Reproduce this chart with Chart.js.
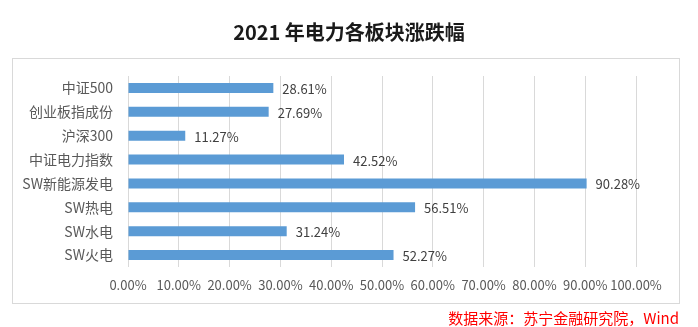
<!DOCTYPE html>
<html>
<head>
<meta charset="utf-8">
<script src="https://cdn.jsdelivr.net/npm/chart.js@4.4.0/dist/chart.umd.min.js"></script>
<style>
html,body{margin:0;padding:0;background:#fff;}
#wrap{width:698px;height:327px;position:relative;}
</style>
</head>
<body>
<div id="wrap"><canvas id="c" width="698" height="327"></canvas></div>
<script>
const titleText = '2021 年电力各板块涨跌幅';
const sourceText = '数据来源：苏宁金融研究院，Wind';
const categories = ['中证500', '创业板指成份', '沪深300', '中证电力指数', 'SW新能源发电', 'SW热电', 'SW水电', 'SW火电'];
const changes = [28.61, 27.69, 11.27, 42.52, 90.28, 56.51, 31.24, 52.27];
const xTicks = [0, 10, 20, 30, 40, 50, 60, 70, 80, 90, 100];

const FONT = '"Noto Sans CJK SC", "Noto Sans", sans-serif';

const decor = {
  id: 'decor',
  beforeDraw(chart) {
    const ctx = chart.ctx;
    ctx.save();
    ctx.fillStyle = '#fff';
    ctx.fillRect(0, 0, chart.width, chart.height);
    ctx.strokeStyle = '#d9d9d9';
    ctx.lineWidth = 1;
    ctx.strokeRect(12.5, 58.5, 667, 245);
    ctx.fillStyle = '#1a1a1a';
    ctx.font = 'bold 20px ' + FONT;
    ctx.textAlign = 'center';
    ctx.textBaseline = 'middle';
    ctx.fillText(titleText, 349, 32);
    ctx.fillStyle = '#ff0000';
    ctx.font = '15px ' + FONT;
    ctx.textAlign = 'right';
    ctx.fillText(sourceText, 679, 318);
    ctx.restore();
  },
  afterDatasetsDraw(chart) {
    const ctx = chart.ctx;
    const meta = chart.getDatasetMeta(0);
    ctx.save();
    ctx.fillStyle = '#404040';
    ctx.font = '13px ' + FONT;
    ctx.textAlign = 'left';
    ctx.textBaseline = 'middle';
    meta.data.forEach((bar, i) => {
      ctx.fillText(changes[i].toFixed(2) + '%', bar.x + 9, bar.y + 1);
    });
    ctx.restore();
  }
};

new Chart(document.getElementById('c'), {
  type: 'bar',
  data: {
    labels: categories,
    datasets: [{
      data: changes,
      backgroundColor: '#5b9bd5',
      borderWidth: 0,
      barPercentage: 0.42,
      categoryPercentage: 1
    }]
  },
  options: {
    indexAxis: 'y',
    responsive: false,
    animation: false,
    devicePixelRatio: 1,
    layout: { padding: { left: 0, right: 62, top: 76, bottom: 0 } },
    plugins: { legend: { display: false }, title: { display: false }, tooltip: { enabled: false } },
    scales: {
      x: {
        min: 0, max: 100,
        afterFit(s) { s.height = 60; },
        afterBuildTicks(s) { s.ticks = xTicks.map(v => ({ value: v })); },
        grid: { color: '#d9d9d9', drawTicks: false, lineWidth: 1 },
        border: { display: false },
        ticks: {
          padding: 10,
          color: '#595959',
          font: { family: FONT, size: 13 },
          maxRotation: 0,
          autoSkip: false,
          callback: v => v.toFixed(2) + '%'
        }
      },
      y: {
        afterFit(s) { s.width = 128; },
        grid: { display: false, drawTicks: false },
        border: { display: false },
        ticks: {
          padding: 15,
          color: '#595959',
          font: { family: FONT, size: 14 }
        }
      }
    }
  },
  plugins: [decor]
});
</script>
</body>
</html>
